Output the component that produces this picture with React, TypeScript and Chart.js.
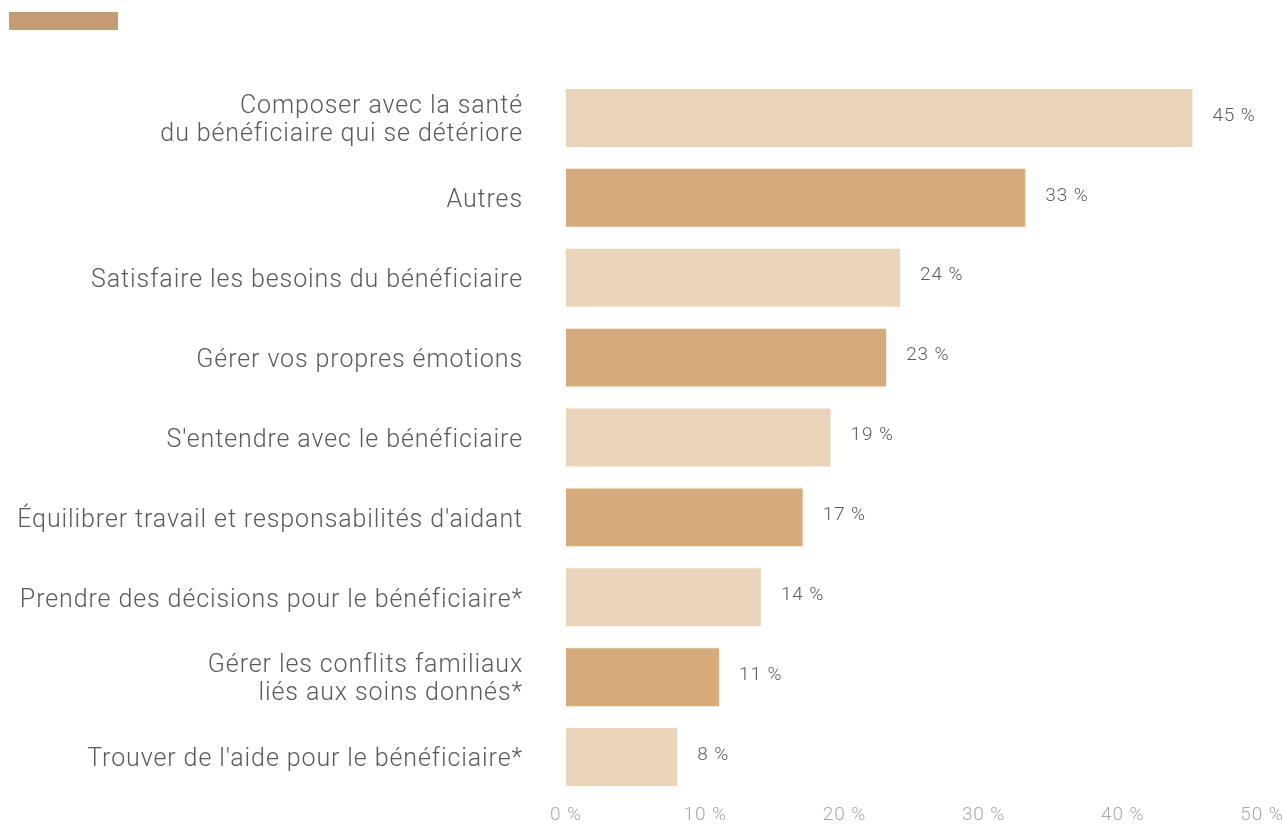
import React, { useEffect, useRef } from "react";
import { Chart, registerables } from "chart.js";

Chart.register(...registerables);

const categories: (string | string[])[] = [
  ["Composer avec la santé", "du bénéficiaire qui se détériore"],
  "Autres",
  "Satisfaire les besoins du bénéficiaire",
  "Gérer vos propres émotions",
  "S'entendre avec le bénéficiaire",
  "Équilibrer travail et responsabilités d'aidant",
  "Prendre des décisions pour le bénéficiaire*",
  ["Gérer les conflits familiaux", "liés aux soins donnés*"],
  "Trouver de l'aide pour le bénéficiaire*",
];
const values = [45, 33, 24, 23, 19, 17, 14, 11, 8];
const xTicks = [0, 10, 20, 30, 40, 50];
const barColors = ["#EAD4BA", "#D6AA7B"];
const legendColor = "#C49B72";

const FONT = "Roboto, 'Liberation Sans', Arial, sans-serif";
const SPACING = "0.9px";

const spacingPlugin = {
  id: "spacing",
  beforeUpdate(chart: any) {
    chart.ctx.letterSpacing = SPACING;
  },
  beforeDraw(chart: any) {
    chart.ctx.letterSpacing = SPACING;
  },
};

const valueLabels = {
  id: "valueLabels",
  afterDatasetsDraw(chart: any) {
    const ctx = chart.ctx;
    const meta = chart.getDatasetMeta(0);
    ctx.save();
    ctx.letterSpacing = SPACING;
    ctx.font = `300 19px ${FONT}`;
    ctx.fillStyle = "#5C5C5C";
    ctx.textAlign = "left";
    ctx.textBaseline = "middle";
    meta.data.forEach((bar: any, i: number) => {
      ctx.fillText(`${values[i]} %`, bar.x + 20, bar.y - 2);
    });
    ctx.restore();
  },
};

const legendHeight = {
  id: "legendHeight",
  beforeInit(chart: any) {
    const lg = chart.legend;
    if (!lg) return;
    const orig = lg.fit;
    lg.fit = function () {
      orig.call(lg);
      lg.height = 78;
    };
  },
};

export default function App() {
  const ref = useRef<HTMLCanvasElement | null>(null);
  useEffect(() => {
    if (!ref.current) return;
    const chart = new Chart(ref.current, {
      type: "bar",
      data: {
        labels: categories,
        datasets: [
          {
            label: "",
            data: values,
            backgroundColor: values.map((_, i) => barColors[i % 2]),
            borderWidth: 0,
            barPercentage: 0.725,
            categoryPercentage: 1,
          },
        ],
      },
      options: {
        indexAxis: "y",
        animation: false,
        responsive: true,
        maintainAspectRatio: false,
        layout: { padding: { left: 0, right: 0, top: 0, bottom: 0 } },
        plugins: {
          tooltip: { enabled: false },
          legend: {
            display: true,
            position: "top",
            align: "start",
            labels: {
              boxWidth: 109,
              boxHeight: 18,
              padding: 9,
              font: { size: 24, family: FONT },
              generateLabels: () => [
                {
                  text: "",
                  fillStyle: legendColor,
                  strokeStyle: legendColor,
                  lineWidth: 0,
                  hidden: false,
                  datasetIndex: 0,
                },
              ],
            },
          },
        },
        scales: {
          x: {
            min: 0,
            max: 50,
            afterBuildTicks: (scale: any) => {
              scale.ticks = xTicks.map((v) => ({ value: v }));
            },
            afterFit: (scale: any) => {
              scale.height = 27;
              scale.paddingRight = 21;
              scale.paddingLeft = 0;
            },
            grid: { display: false, drawTicks: false },
            border: { display: false },
            ticks: {
              padding: 7,
              color: "#A8A8A8",
              font: { size: 19, family: FONT, weight: "300" },
              callback: (v: any) => `${v} %`,
            },
          },
          y: {
            grid: { display: false, drawTicks: false },
            border: { display: false },
            afterFit: (scale: any) => {
              scale.width = 566;
              scale.paddingTop = 0;
              scale.paddingBottom = 0;
            },
            ticks: {
              padding: 43,
              labelOffset: 3,
              color: "#5A5A5A",
              font: { size: 25, family: FONT, weight: "300", lineHeight: 1.12 },
            },
          },
        },
      },
      plugins: [spacingPlugin, valueLabels, legendHeight],
    });
    return () => chart.destroy();
  }, []);
  return (
    <div style={{ position: "fixed", left: 0, top: 0, width: 1283, height: 824, background: "#fff" }}>
      <canvas ref={ref} />
    </div>
  );
}
